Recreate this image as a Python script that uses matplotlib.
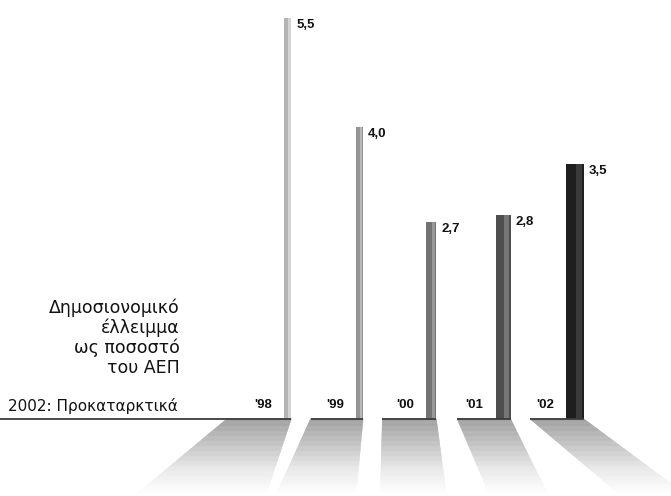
import numpy as np
import matplotlib.pyplot as plt
from matplotlib.colors import LinearSegmentedColormap

# Δεδομένα: δημοσιονομικό έλλειμμα ως % του ΑΕΠ
years = ["'98", "'99", "'00", "'01", "'02"]
deficit = [5.5, 4.0, 2.7, 2.8, 3.5]
value_labels = ["5,5", "4,0", "2,7", "2,8", "3,5"]

title_text = "Δημοσιονομικό\nέλλειμμα\nως ποσοστό\nτου ΑΕΠ"
note_text = "2002: Προκαταρκτικά"

# Στυλ μπαρών (από ανοιχτό γκρι σε σχεδόν μαύρο)
bar_colors = ['#b4b4b4', '#949494', '#737373', '#4e4e4e', '#1e1e1e']
bar_light = ['#d4d4d4', '#b8b8b8', '#999999', '#767676', '#3a3a3a']
bar_widths = np.array([0.10, 0.10, 0.14, 0.21, 0.25])

# Γεωμετρία σκιών σε pixel (σχετικά με το κέντρο / δεξιά άκρη της μπάρας)
shadow_top_left = [-61, -49, -49, -46, -45]
shadow_shift_left = [-90, -34, -2, 32, 89]
shadow_shift_right = [-25, -7, 10, 37, 101]
shadow_depth = 75

fig = plt.figure(figsize=(6.71, 4.96), dpi=100)
ax = fig.add_axes([0, 0, 1, 1])
x0, x1 = -4.01, 5.34
y0, y1 = -1.06, 5.75
ax.set_xlim(x0, x1)
ax.set_ylim(y0, y1)
ax.axis('off')

px = (x1 - x0) / 671
py = (y1 - y0) / 496

x = np.arange(len(years))

# Σκιές: λωρίδες με διαβάθμιση (σκούρο πάνω, λευκό κάτω)
shade = LinearSegmentedColormap.from_list('shade', ['#9e9e9e', '#c2c2c2', '#e8e8e8', '#ffffff'])
n_steps = 60
for i in x:
    right = i + bar_widths[i] / 2
    tl = i + shadow_top_left[i] * px
    tr = right
    dl = shadow_shift_left[i] * px
    dr = shadow_shift_right[i] * px
    depth = shadow_depth * py
    for k in range(n_steps):
        f0, f1 = k / n_steps, (k + 1) / n_steps
        c = shade((f0 + f1) / 2)
        ax.fill([tl + dl * f0, tr + dr * f0, tr + dr * f1, tl + dl * f1],
                [-depth * f0, -depth * f0, -depth * f1, -depth * f1],
                color=c, lw=0.3, ec=c, zorder=1)
    # πάνω άκρη σκιάς
    left_end = x0 if i == 0 else tl
    ax.plot([left_end, tr], [0, 0], color='#3c3c3c', lw=1.3, zorder=3,
            solid_capstyle='butt')

# Μπάρες
ax.bar(x, deficit, width=bar_widths, color=bar_colors, zorder=2)
ax.bar(x + bar_widths * 0.22, deficit, width=bar_widths * 0.35,
       color=bar_light, zorder=2)

# Ετικέτες τιμών και ετών
for i in x:
    right = i + bar_widths[i] / 2
    left = i - bar_widths[i] / 2
    ax.text(right + 5 * px, deficit[i] - 1 * py, value_labels[i],
            ha='left', va='top', fontsize=9.5, fontweight='bold',
            family='Liberation Sans', color='#111111')
    ax.text(left - 12 * px, 14 * py, years[i], ha='right', va='center',
            fontsize=9.5, fontweight='bold', family='Liberation Sans',
            color='#111111')

# Τίτλος και σημείωση αριστερά
ax.text(x0 + 180 * px, 120 * py, title_text, ha='right', va='top',
        fontsize=12.5, linespacing=1.1, color='#111111')
ax.text(x0 + 178 * px, 13 * py, note_text, ha='right', va='center',
        fontsize=11, color='#111111')

ax.set_xlim(x0, x1)
ax.set_ylim(y0, y1)

fig.savefig('out.png', dpi=100)
